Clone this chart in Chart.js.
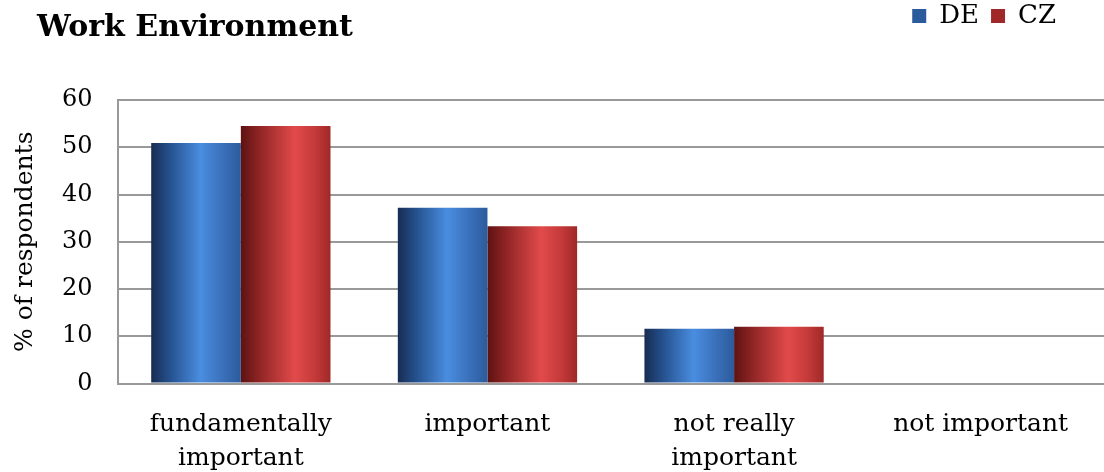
<!DOCTYPE html>
<html>
<head>
<meta charset="utf-8">
<script src="https://cdn.jsdelivr.net/npm/chart.js@4/dist/chart.umd.min.js"></script>
<style>
  html,body{margin:0;padding:0;background:#fff;}
  #wrap{width:1104px;height:472px;position:relative;}
</style>
</head>
<body>
<div id="wrap"><canvas id="chart"></canvas></div>
<script>
// data
const categories=[['fundamentally','important'],'important',['not really','important'],'not important'];
const deValues=[50.9,37.2,11.6,0];
const czValues=[54.5,33.3,12.0,0];
const yTicks=[0,10,20,30,40,50,60];

const CAT_PCT=0.727;
const serif='"DejaVu Serif", serif';

const blueStops=[[0,'#182c52'],[0.2,'#24508c'],[0.55,'#4a8de0'],[0.8,'#3a70ba'],[1,'#2b5b9c']];
const redStops=[[0,'#5e1212'],[0.2,'#8e2424'],[0.6,'#e24a4a'],[0.82,'#c53a3a'],[1,'#a02828']];

// horizontal gradient across each bar, from the x scale
function barFill(c,stops,flat){
  const xs=c.chart.scales.x;
  if(c.type!=='data'||!xs||!xs.width) return flat;
  const cat=xs.width/categories.length;
  const bw=cat*CAT_PCT/2;
  const left=xs.getPixelForValue(c.dataIndex)-cat*CAT_PCT/2+c.datasetIndex*bw;
  const g=c.chart.ctx.createLinearGradient(left,0,left+bw,0);
  stops.forEach(s=>g.addColorStop(s[0],s[1]));
  return g;
}

// title sits a bit right of the axis title, legend a bit in from the edge
const nudge={id:'nudge',afterLayout(chart){
  const t=chart.titleBlock; t.left+=27; t.right+=27;
  const l=chart.legend; l.left-=36; l.right-=36; l.top-=9; l.bottom-=9;
}};

new Chart(document.getElementById('chart'),{
  type:'bar',
  data:{labels:categories,datasets:[
    {label:'DE',data:deValues,backgroundColor:c=>barFill(c,blueStops,'#3a74c4'),
     categoryPercentage:CAT_PCT,barPercentage:1},
    {label:'CZ',data:czValues,backgroundColor:c=>barFill(c,redStops,'#c83434'),
     categoryPercentage:CAT_PCT,barPercentage:1}
  ]},
  options:{
    responsive:true,maintainAspectRatio:false,animation:false,
    layout:{padding:{left:10,right:0,top:0,bottom:-27}},
    plugins:{
      legend:{position:'top',align:'end',weight:3000,
        labels:{boxWidth:14,boxHeight:14,padding:12,color:'#000',font:{family:serif,size:26}}},
      title:{display:true,text:'Work Environment',align:'start',color:'#000',weight:2000,
        font:{family:serif,size:30,weight:'bold'},padding:{top:-38,bottom:54}},
      tooltip:{enabled:false}
    },
    scales:{
      x:{grid:{display:false,drawTicks:false},
        border:{display:true,color:'#999',width:2},
        ticks:{color:'#000',font:{family:serif,size:25,lineHeight:1.35},padding:24,maxRotation:0,autoSkip:false}},
      y:{min:0,max:60,
        afterBuildTicks:ax=>{ax.ticks=yTicks.map(v=>({value:v}));},
        grid:{color:'#999',lineWidth:2,drawTicks:false},
        border:{display:true,color:'#999',width:2},
        ticks:{color:'#000',font:{family:serif,size:24},padding:25},
        title:{display:true,text:'% of respondents',color:'#000',font:{family:serif,size:25},padding:{top:0,bottom:-3}}}
    }
  },
  plugins:[nudge]
});
</script>
</body>
</html>
